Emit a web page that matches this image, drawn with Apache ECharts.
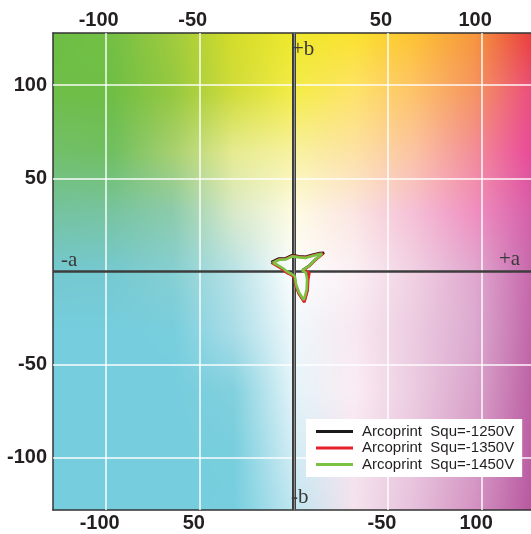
<!DOCTYPE html>
<html>
<head>
<meta charset="utf-8">
<script src="https://cdn.jsdelivr.net/npm/echarts@6/dist/echarts.min.js"></script>
<style>
  html, body { margin: 0; padding: 0; background: #fff; }
  #chart { width: 531px; height: 534px; }
</style>
</head>
<body>
<div id="chart"></div>
<script>
// tick positions and the labels printed at them (the original prints odd labels on the bottom axis)
var aTicks = [-100, -50, 50, 100];
var topLabels = ["-100", "-50", "50", "100"];
var bottomLabels = ["-100", "50", "-50", "100"];
var bTicks = [100, 50, -50, -100];
var leftLabels = ["100", "50", "-50", "-100"];

var seriesNames = ["Arcoprint  Squ=-1250V", "Arcoprint  Squ=-1350V", "Arcoprint  Squ=-1450V"];
var seriesColors = ["#1a1a1a", "#e8202a", "#7cc242"];

// a*, b* outlines (closed)
var curve1250 = [[-12.0,5.0],[-8.2,6.9],[-4.6,7.0],[-0.9,8.8],[2.8,8.2],[6.2,7.9],[10.4,9.1],[13.8,9.9],[16.0,10.1],[11.6,6.6],[8.0,3.0],[4.6,0.7],[7.2,-0.6],[7.4,-4.4],[7.1,-10.0],[5.5,-16.2],[2.7,-11.8],[1.0,-7.2],[0.3,-2.6],[-1.6,-1.5],[-3.3,-0.7],[-6.5,1.8],[-9.4,3.5],[-12.0,5.0]];
var curve1350 = [[-11.6,4.5],[-8.0,6.5],[-4.5,6.7],[-0.8,8.4],[2.9,7.9],[6.2,7.6],[10.3,8.7],[13.6,9.5],[15.5,9.7],[11.5,6.2],[8.1,2.8],[5.0,0.5],[8.3,-0.6],[7.6,-4.6],[7.3,-10.2],[5.6,-16.5],[2.6,-12.0],[0.9,-7.5],[0.2,-2.9],[-1.8,-1.7],[-3.5,-0.9],[-6.6,1.6],[-9.3,3.2],[-11.6,4.5]];
var curve1450 = [[-11.2,4.7],[-7.8,6.3],[-4.5,6.4],[-0.9,8.1],[2.8,7.6],[6.1,7.3],[10.2,8.4],[13.4,9.2],[15.0,9.5],[11.3,6.3],[7.9,2.9],[4.4,0.6],[6.5,-0.7],[7.0,-4.4],[6.8,-9.8],[5.3,-15.3],[2.8,-11.4],[1.2,-7.1],[0.5,-2.5],[-1.5,-1.2],[-3.1,-0.4],[-6.2,2.0],[-8.9,3.6],[-11.2,4.7]];

var aMin = -128, aMax = 126, bMin = -128, bMax = 128;

// background colour field: control colours on a 32-unit lattice
var bgA = [-128, -96, -64, -32, 0, 32, 64, 96, 128];
var bgB = [128, 96, 64, 32, 0, -32, -64, -96, -128];
var bgColors = [
  ["#6dbe45","#74c045","#a0cb3d","#d4dc2a","#eee82c","#fbe22e","#fdc232","#f6963d","#e8383c"],
  ["#6fbe48","#6fbe45","#95c840","#d0dc3a","#f4ec48","#fde36a","#fdc26a","#f59462","#ea4a80"],
  ["#72bf6a","#70bf60","#a8d070","#e6eb90","#f8f2a0","#fde2a4","#fbc3a2","#f38d98","#e8459a"],
  ["#74c3a0","#78c4a0","#8ccbab","#d8e9c8","#fefbe2","#fbe5e2","#f5bfd6","#f08fc0","#d45ca8"],
  ["#74c8d0","#76c9d0","#86cfd2","#b8e2e6","#fdfeff","#fbf0f4","#f0d0e2","#e0a8cf","#c664aa"],
  ["#75cddd","#75cddd","#78cedd","#aadde8","#eef8fb","#f8e8f0","#eccbe0","#dcaad0","#c062a6"],
  ["#75cddd","#75cddd","#75cddd","#82d0de","#e4f4f9","#fbecf3","#ebcbe0","#d9a3ca","#bc5ea3"],
  ["#75cddd","#75cddd","#75cddd","#78cedd","#d4edf5","#f6e4ee","#e9c6de","#d79cc6","#b95aa1"],
  ["#75cddd","#75cddd","#75cddd","#76cede","#c0e6f0","#f4e2ed","#e6c0db","#d493c2","#b6559e"]
];

var gridLeft = 53, gridTop = 33, gridW = 478, gridH = 477;

function rgb(h) {
  return [parseInt(h.substr(1, 2), 16), parseInt(h.substr(3, 2), 16), parseInt(h.substr(5, 2), 16)];
}

function makeBackground() {
  var cv = document.createElement("canvas");
  cv.width = gridW;
  cv.height = gridH;
  var ctx = cv.getContext("2d");
  var img = ctx.createImageData(gridW, gridH);
  var cols = bgColors.map(function (row) { return row.map(rgb); });
  var step = 32;
  for (var y = 0; y < gridH; y++) {
    var b = bMax - (y + 0.5) / gridH * (bMax - bMin);
    var j = Math.min(Math.max(Math.floor((bgB[0] - b) / step), 0), bgB.length - 2);
    var v = Math.min(Math.max((bgB[j] - b) / step, 0), 1);
    for (var x = 0; x < gridW; x++) {
      var a = aMin + (x + 0.5) / gridW * (aMax - aMin);
      var i = Math.min(Math.max(Math.floor((a - bgA[0]) / step), 0), bgA.length - 2);
      var u = Math.min(Math.max((a - bgA[i]) / step, 0), 1);
      var p = (y * gridW + x) * 4;
      for (var k = 0; k < 3; k++) {
        var top = cols[j][i][k] * (1 - u) + cols[j][i + 1][k] * u;
        var bot = cols[j + 1][i][k] * (1 - u) + cols[j + 1][i + 1][k] * u;
        img.data[p + k] = top * (1 - v) + bot * v;
      }
      img.data[p + 3] = 255;
    }
  }
  ctx.putImageData(img, 0, 0);
  return cv;
}

var chart = echarts.init(document.getElementById("chart"));

var labelFont = { fontFamily: "Liberation Sans", fontWeight: "bold", fontSize: 20, color: "#231f20" };
var axisLetter = { fontFamily: "Liberation Serif", fontSize: 21, fill: "#3a3a3a" };

var curveSeries = [curve1250, curve1350, curve1450].map(function (d, idx) {
  return {
    name: seriesNames[idx],
    type: "line",
    data: d,
    symbol: "none",
    z: 10 + idx,
    color: seriesColors[idx],
    lineStyle: { color: seriesColors[idx], width: 2.6 },
    animation: false
  };
});

var option = {
  animation: false,
  grid: { left: gridLeft, top: gridTop, width: gridW, height: gridH },
  legend: {
    data: seriesNames,
    z: 30,
    orient: "vertical",
    left: 306,
    top: 419,
    backgroundColor: "#fff",
    padding: [5, 8, 5, 10],
    itemWidth: 37,
    itemHeight: 3,
    itemGap: 1.5,
    icon: "rect",
    textStyle: { fontFamily: "Liberation Sans", fontSize: 15, color: "#231f20", lineHeight: 15, padding: [0, 0, 0, 4] }
  },
  xAxis: [
    {
      type: "value", min: aMin, max: aMax, position: "bottom",
      axisLine: { onZero: false, lineStyle: { color: "#333", width: 1.5 } },
      axisTick: { show: false },
      splitLine: { show: false },
      axisLabel: Object.assign({
        customValues: aTicks, margin: 3, padding: [0, 12, 0, 0],
        formatter: function (v) { return bottomLabels[aTicks.indexOf(v)]; }
      }, labelFont)
    },
    {
      type: "value", min: aMin, max: aMax, position: "top",
      axisLine: { onZero: false, lineStyle: { color: "#333", width: 1.5 } },
      axisTick: { show: false },
      splitLine: { show: false },
      axisLabel: Object.assign({
        customValues: aTicks, margin: 3, padding: [0, 14, 0, 0],
        formatter: function (v) { return topLabels[aTicks.indexOf(v)]; }
      }, labelFont)
    }
  ],
  yAxis: {
    type: "value", min: bMin, max: bMax,
    axisLine: { show: true, onZero: false, lineStyle: { color: "#333", width: 1.5 } },
    axisTick: { show: false },
    splitLine: { show: false },
    axisLabel: Object.assign({
      customValues: bTicks, margin: 6,
      formatter: function (v) { return leftLabels[bTicks.indexOf(v)]; }
    }, labelFont)
  },
  graphic: {
    elements: [
      { type: "image", z: -10, silent: true, style: { image: makeBackground(), x: gridLeft, y: gridTop, width: gridW, height: gridH } },
      { type: "text", z: 50, left: 61, top: 250, style: Object.assign({ text: "-a" }, axisLetter) },
      { type: "text", z: 50, left: 499, top: 249, style: Object.assign({ text: "+a" }, axisLetter) },
      { type: "text", z: 50, left: 292, top: 39, style: Object.assign({ text: "+b" }, axisLetter) },
      { type: "text", z: 50, left: 291, top: 487, style: Object.assign({ text: "-b" }, axisLetter) }
    ]
  },
  series: [
    {
      name: "gridlines", type: "line", data: [], z: 3,
      markLine: {
        silent: true, symbol: ["none", "none"], label: { show: false },
        lineStyle: { color: "rgba(255,255,255,0.95)", width: 1.5, type: "solid" },
        data: aTicks.map(function (v) { return { xAxis: v }; }).concat(bTicks.map(function (v) { return { yAxis: v }; }))
      }
    },
    {
      name: "axes", type: "line", data: [], z: 4,
      markLine: {
        silent: true, symbol: ["none", "none"], label: { show: false },
        data: [
          { xAxis: 0, lineStyle: { color: "#3a3a3a", width: 4, type: "solid" } },
          { yAxis: 0, lineStyle: { color: "#3d3d3d", width: 2.5, type: "solid" } }
        ]
      }
    },
    {
      name: "axis-inner", type: "line", data: [], z: 5,
      markLine: {
        silent: true, symbol: ["none", "none"], label: { show: false },
        data: [{ xAxis: 0, lineStyle: { color: "#8a8a8a", width: 1.2, type: "solid" } }]
      }
    }
  ].concat(curveSeries)
};

chart.setOption(option);
</script>
</body>
</html>
